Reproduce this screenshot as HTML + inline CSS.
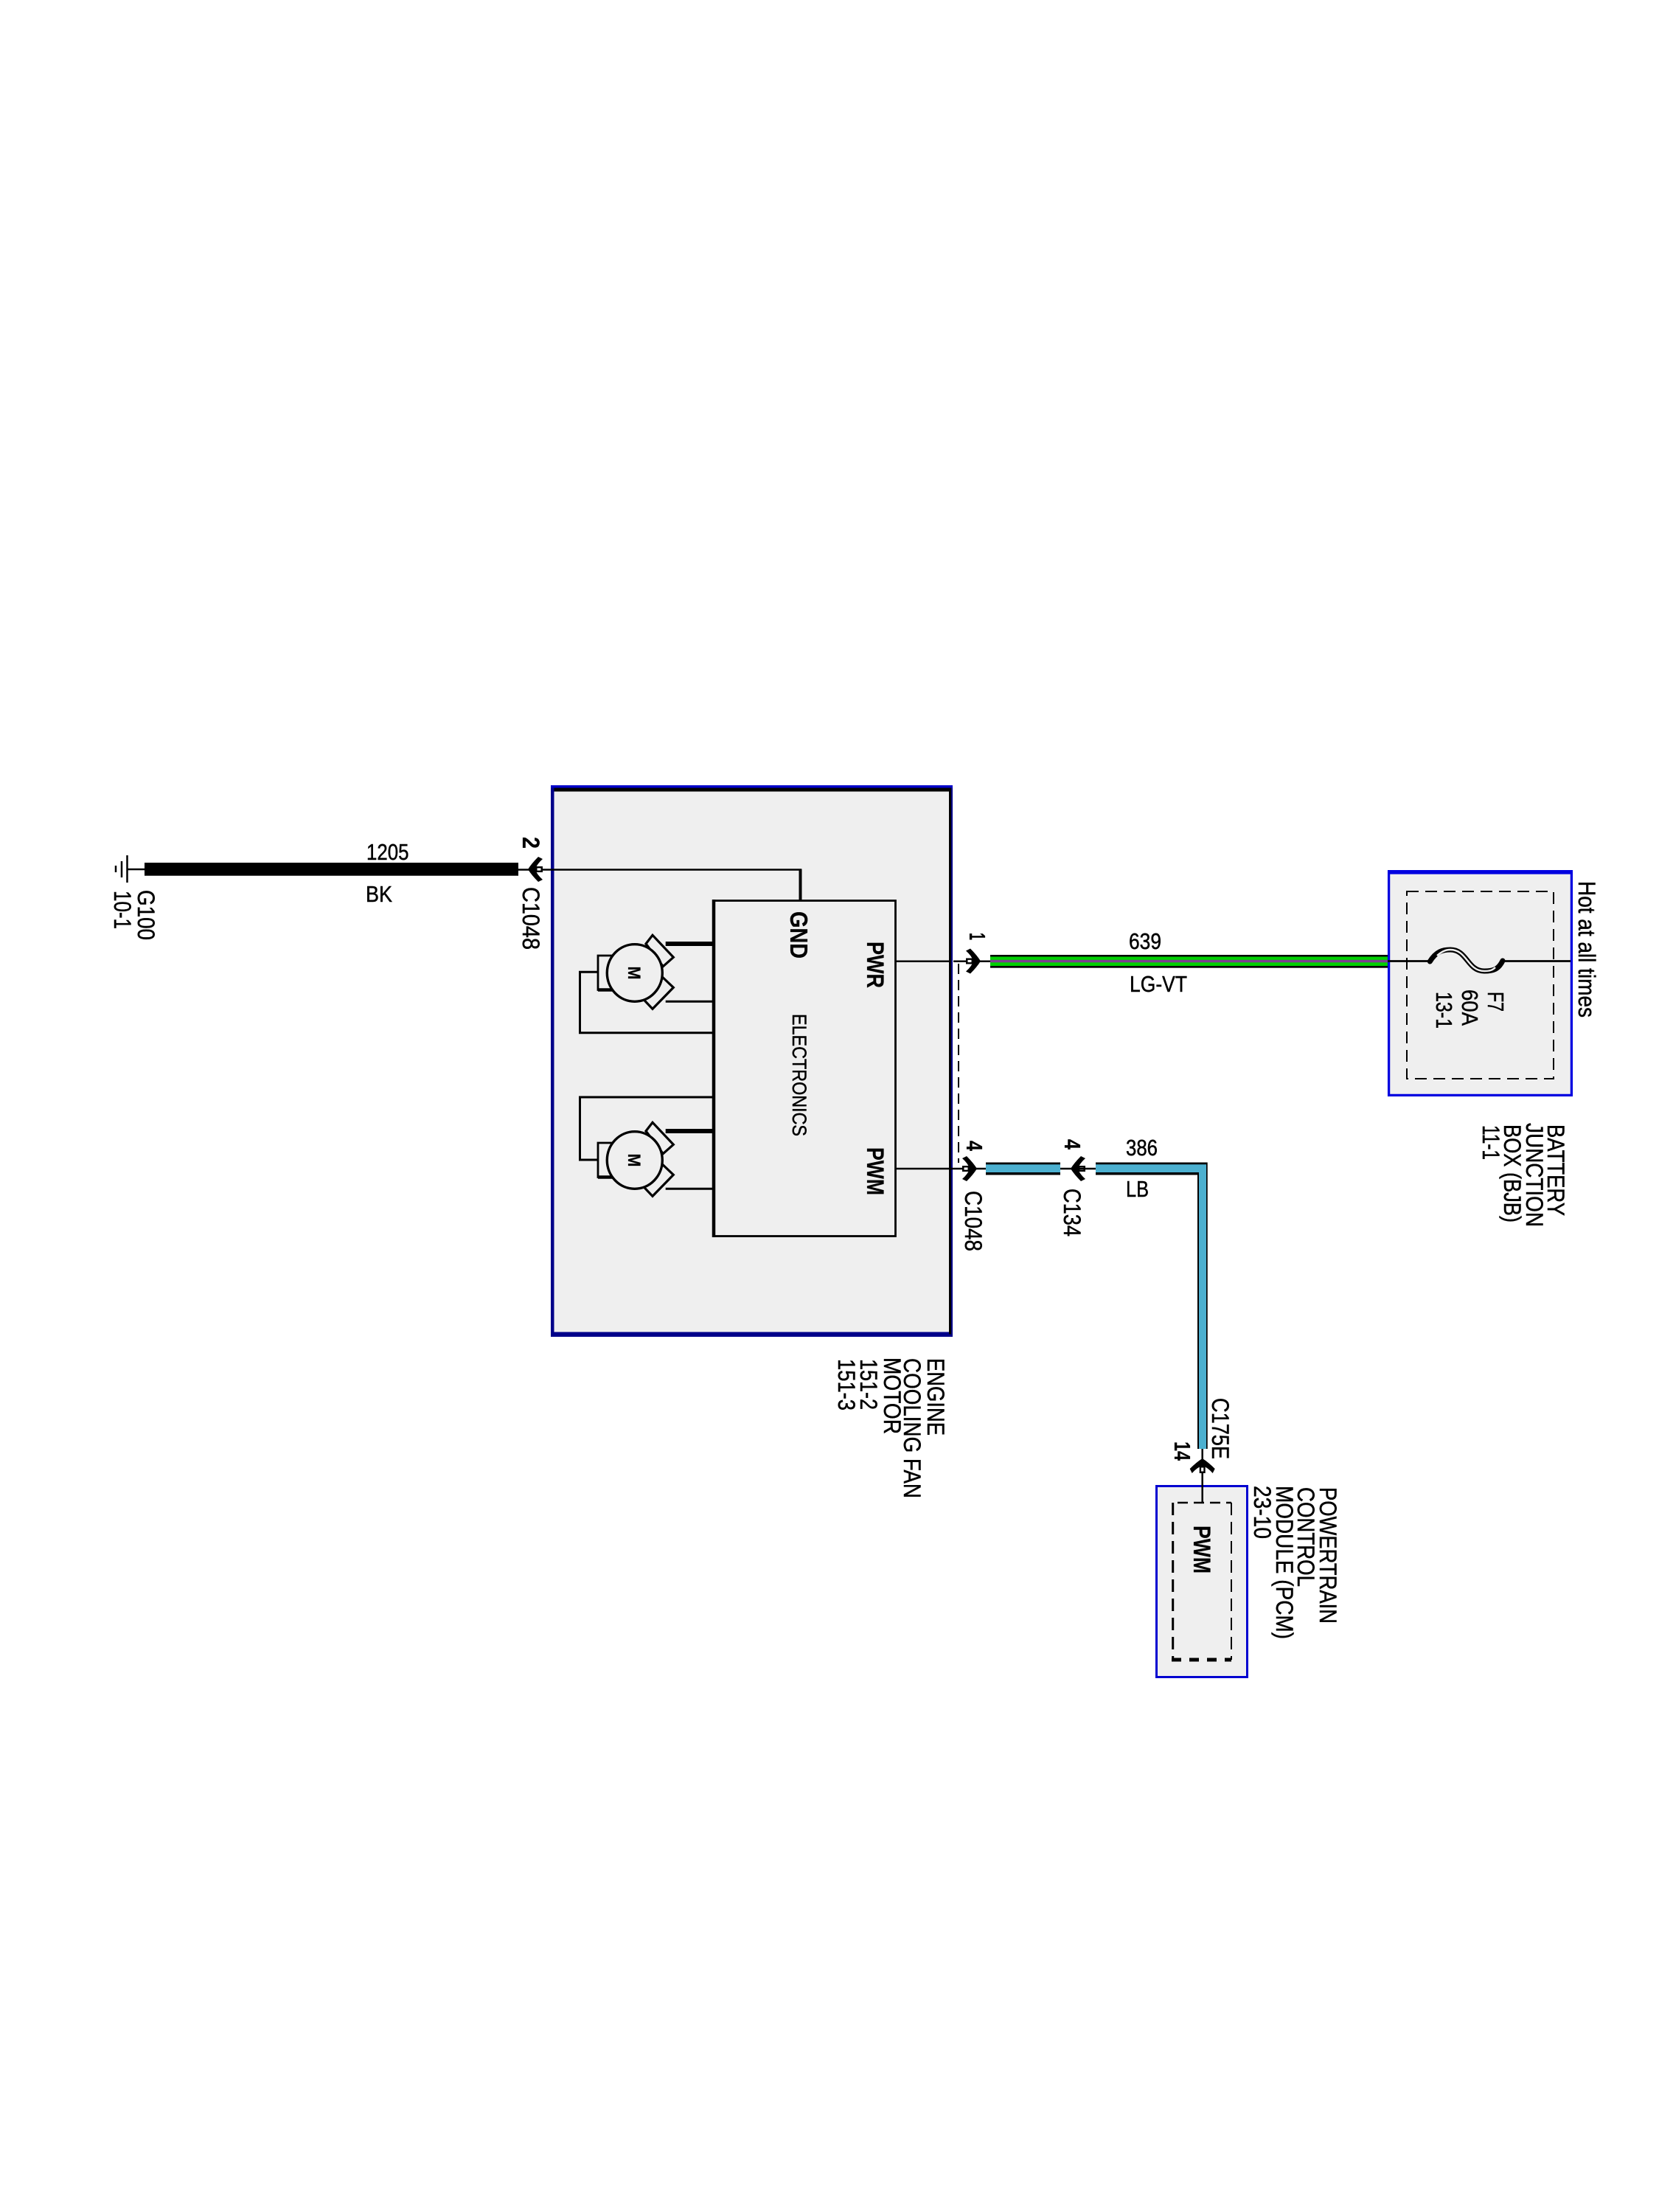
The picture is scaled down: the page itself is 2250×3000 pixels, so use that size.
<!DOCTYPE html>
<html>
<head>
<meta charset="utf-8">
<title>Engine cooling fan wiring diagram</title>
<style>
html,body{margin:0;padding:0;background:#fff;}
svg{display:block;}
text{font-family:"Liberation Sans",sans-serif;fill:#000;stroke:#000;stroke-width:.5;}
.b{font-weight:bold;stroke-width:.2;}
</style>
</head>
<body>
<svg xmlns="http://www.w3.org/2000/svg" width="2250" height="3000" viewBox="0 0 2250 3000">
<defs>
  <g id="conn">
    <path d="M-18,-14 L-12,-17 Q-3,-8 2,0 Q-3,8 -12,17 L-18,14 Q-10,7 -8,0 Q-10,-7 -18,-14Z" fill="#000"/>
    <rect x="-18" y="-4" width="11" height="8" fill="#000"/>
    <rect x="-15.5" y="-1.6" width="5" height="3.2" fill="#fff"/>
  </g>
  <g id="motor" fill="none" stroke="#000">
    <path d="M835,1296 H811 V1342.5 H838" stroke-width="2.8" fill="#efefef"/>
    <path d="M811,1342.5 H838" stroke-width="4.5"/>
    <path d="M876,1280 L885,1268.3 L913.3,1298.3 L899.3,1310.7 Z" stroke-width="3.2" fill="#efefef"/>
    <path d="M899.3,1326 L913.3,1339.3 L885,1368.3 L873.3,1356 Z" stroke-width="3.2" fill="#efefef"/>
    <ellipse cx="860.8" cy="1319.5" rx="37.5" ry="38.8" stroke-width="3.4" fill="#efefef"/>
    <path d="M902.7,1280 H968" stroke-width="6"/>
    <path d="M902.7,1358.3 H968" stroke-width="3"/>
  </g>
</defs>

<!-- ground -->
<g stroke="#000" fill="none">
  <path d="M172.5,1160 V1197" stroke-width="2.5"/>
  <path d="M165,1168 V1190" stroke-width="2.5"/>
  <path d="M157,1174 V1183" stroke-width="2.5"/>
  <path d="M172,1179 H196" stroke-width="2.5"/>
</g>
<rect x="196" y="1170" width="507" height="17.7" fill="#000"/>
<text transform="translate(187,1207) rotate(90)" font-size="32" textLength="68" lengthAdjust="spacingAndGlyphs">G100</text>
<text transform="translate(155,1208) rotate(90)" font-size="32" textLength="52" lengthAdjust="spacingAndGlyphs">10-1</text>
<text x="497" y="1166" font-size="31" textLength="57.5" lengthAdjust="spacingAndGlyphs">1205</text>
<text x="496" y="1223" font-size="31" textLength="36" lengthAdjust="spacingAndGlyphs">BK</text>
<text class="b" transform="translate(709,1135) rotate(90)" font-size="32" textLength="16" lengthAdjust="spacingAndGlyphs">2</text>
<text transform="translate(709,1203) rotate(90)" font-size="32" textLength="85" lengthAdjust="spacingAndGlyphs">C1048</text>

<!-- main module box -->
<rect x="747" y="1065" width="545" height="748" fill="#00008a"/>
<rect x="747" y="1065" width="545" height="3.5" fill="#0000c8"/>
<rect x="751.5" y="1068.5" width="538" height="5" fill="#000"/>
<rect x="1287" y="1068.5" width="3" height="741" fill="#000"/>
<rect x="751.5" y="1073.5" width="535.5" height="733" fill="#efefef"/>

<path d="M703,1179.5 H1087" stroke="#000" stroke-width="2.5" fill="none"/>
<use href="#conn" transform="translate(718,1179) rotate(180)"/>
<path d="M1085.5,1178.5 V1221" stroke="#000" stroke-width="4" fill="none"/>

<!-- electronics -->
<rect x="968.5" y="1221.5" width="246" height="455" fill="#efefef" stroke="#000" stroke-width="2.8"/>
<path d="M968,1220 V1678" stroke="#000" stroke-width="4.5" fill="none"/>

<!-- motors -->
<use href="#motor"/>
<use href="#motor" transform="translate(0,254)"/>
<path d="M811,1318.3 H786.5 V1400.7 H968" fill="none" stroke="#000" stroke-width="3"/>
<path d="M811,1573 H786.5 V1488 H968" fill="none" stroke="#000" stroke-width="3"/>
<text class="b" transform="translate(852,1310.5) rotate(90)" font-size="24" textLength="18" lengthAdjust="spacingAndGlyphs">M</text>
<text class="b" transform="translate(852,1564.5) rotate(90)" font-size="24" textLength="18" lengthAdjust="spacingAndGlyphs">M</text>

<text class="b" transform="translate(1072,1236) rotate(90)" font-size="33" textLength="64" lengthAdjust="spacingAndGlyphs">GND</text>
<text class="b" transform="translate(1176,1277) rotate(90)" font-size="32" textLength="63" lengthAdjust="spacingAndGlyphs">PWR</text>
<text class="b" transform="translate(1176,1556) rotate(90)" font-size="32" textLength="65" lengthAdjust="spacingAndGlyphs">PWM</text>
<text transform="translate(1075,1375) rotate(90)" font-size="27" textLength="166" lengthAdjust="spacingAndGlyphs">ELECTRONICS</text>

<!-- right-side wires from electronics -->
<path d="M1215,1303.7 H1287 M1293,1303.7 H1345" stroke="#000" stroke-width="2.5" fill="none"/>
<path d="M1215,1585 H1340" stroke="#000" stroke-width="2.5" fill="none"/>
<path d="M1300,1307 V1577" stroke="#000" stroke-width="2" stroke-dasharray="14 8" fill="none"/>

<use href="#conn" transform="translate(1328,1303.5)"/>
<use href="#conn" transform="translate(1323,1585)"/>
<use href="#conn" transform="translate(1454,1585) rotate(180)"/>

<text class="b" transform="translate(1315,1265) rotate(90)" font-size="31" textLength="10" lengthAdjust="spacingAndGlyphs">1</text>
<text class="b" transform="translate(1311,1547) rotate(90)" font-size="31" textLength="14" lengthAdjust="spacingAndGlyphs">4</text>
<text transform="translate(1309,1615) rotate(90)" font-size="32" textLength="82" lengthAdjust="spacingAndGlyphs">C1048</text>
<text class="b" transform="translate(1444,1545) rotate(90)" font-size="31" textLength="14" lengthAdjust="spacingAndGlyphs">4</text>
<text transform="translate(1443,1612) rotate(90)" font-size="32" textLength="65" lengthAdjust="spacingAndGlyphs">C134</text>

<!-- 639 LG-VT wire -->
<rect x="1343" y="1295" width="539" height="17.7" fill="#000"/>
<rect x="1343" y="1297.5" width="539" height="12.5" fill="#00d000"/>
<rect x="1343" y="1301.8" width="539" height="3.5" fill="#7b3f8f"/>
<text x="1531" y="1287" font-size="31" textLength="44" lengthAdjust="spacingAndGlyphs">639</text>
<text x="1532" y="1345" font-size="31" textLength="78" lengthAdjust="spacingAndGlyphs">LG-VT</text>

<!-- 386 LB wire -->
<rect x="1337" y="1576.5" width="101" height="17" fill="#000"/>
<rect x="1337" y="1579.3" width="101" height="10.7" fill="#4cb0d0"/>
<path d="M1438,1585 H1486" stroke="#000" stroke-width="2.5" fill="none"/>
<path d="M1486,1576.5 H1637.7 V1965 H1624 V1593.5 H1486 Z" fill="#000"/>
<path d="M1486,1579.3 H1636 V1965 H1626 V1590 H1486 Z" fill="#4cb0d0"/>
<text x="1527" y="1567" font-size="31" textLength="43" lengthAdjust="spacingAndGlyphs">386</text>
<text x="1527" y="1623" font-size="31" textLength="31" lengthAdjust="spacingAndGlyphs">LB</text>

<!-- battery junction box -->
<rect x="1883.6" y="1182" width="247.8" height="303.4" fill="#efefef" stroke="#0000e0" stroke-width="3.3"/>
<rect x="1882" y="1180" width="251" height="5.6" fill="#0000e0"/>
<rect x="1908" y="1209" width="199" height="254" fill="none" stroke="#000" stroke-width="2" stroke-dasharray="16 9"/>
<path d="M1882,1303.5 H1939 M2038,1303.5 H2130" stroke="#000" stroke-width="2.8" fill="none"/>
<path d="M1939.3,1304 C1948,1290 1957,1288 1967,1288 C1990,1288 1990,1317 2013,1317 C2025,1317 2032,1315 2038,1303" fill="none" stroke="#000" stroke-width="7" stroke-linecap="round"/>
<path d="M1949,1296 C1955,1291 1960,1288 1967,1288 C1990,1288 1990,1317 2013,1317 C2020,1317 2024,1316 2028,1312" fill="none" stroke="#efefef" stroke-width="2.4"/>
<text transform="translate(2018,1345) rotate(90)" font-size="31" textLength="27" lengthAdjust="spacingAndGlyphs">F7</text>
<text transform="translate(1983,1342) rotate(90)" font-size="31" textLength="49" lengthAdjust="spacingAndGlyphs">60A</text>
<text transform="translate(1948,1345) rotate(90)" font-size="31" textLength="50" lengthAdjust="spacingAndGlyphs">13-1</text>
<text transform="translate(2141,1195) rotate(90)" font-size="32" textLength="185" lengthAdjust="spacingAndGlyphs">Hot at all times</text>
<text transform="translate(2099,1525) rotate(90)" font-size="32" textLength="124" lengthAdjust="spacingAndGlyphs">BATTERY</text>
<text transform="translate(2070,1523) rotate(90)" font-size="32" textLength="141" lengthAdjust="spacingAndGlyphs">JUNCTION</text>
<text transform="translate(2040,1525) rotate(90)" font-size="32" textLength="133" lengthAdjust="spacingAndGlyphs">BOX (BJB)</text>
<text transform="translate(2011,1526) rotate(90)" font-size="32" textLength="47" lengthAdjust="spacingAndGlyphs">11-1</text>

<!-- PCM -->
<rect x="1568.5" y="2015.5" width="123" height="259" fill="#efefef" stroke="#0000d0" stroke-width="3"/>
<path d="M1590.7,2038 V2251" stroke="#000" stroke-width="3" stroke-dasharray="17 9" fill="none"/>
<path d="M1670,2038 V2251" stroke="#000" stroke-width="2" stroke-dasharray="17 9" fill="none"/>
<path d="M1597,2038 H1670" stroke="#000" stroke-width="2.5" stroke-dasharray="14 8" fill="none"/>
<path d="M1589,2251 H1670" stroke="#000" stroke-width="5" stroke-dasharray="13 11" fill="none"/>
<path d="M1630.7,1965 V2037" stroke="#000" stroke-width="2.5" fill="none"/>
<use href="#conn" transform="translate(1630.7,1980) rotate(-90)"/>
<text class="b" transform="translate(1593,1955) rotate(90)" font-size="31" textLength="26" lengthAdjust="spacingAndGlyphs">14</text>
<text transform="translate(1644,1896) rotate(90)" font-size="32" textLength="83" lengthAdjust="spacingAndGlyphs">C175E</text>
<text class="b" transform="translate(1619,2069) rotate(90)" font-size="32" textLength="65" lengthAdjust="spacingAndGlyphs">PWM</text>
<text transform="translate(1790,2017) rotate(90)" font-size="32" textLength="185" lengthAdjust="spacingAndGlyphs">POWERTRAIN</text>
<text transform="translate(1760,2017) rotate(90)" font-size="32" textLength="135" lengthAdjust="spacingAndGlyphs">CONTROL</text>
<text transform="translate(1731,2015) rotate(90)" font-size="32" textLength="208" lengthAdjust="spacingAndGlyphs">MODULE (PCM)</text>
<text transform="translate(1701,2015) rotate(90)" font-size="32" textLength="72" lengthAdjust="spacingAndGlyphs">23-10</text>

<!-- module title -->
<text transform="translate(1258,1842) rotate(90)" font-size="32" textLength="105" lengthAdjust="spacingAndGlyphs">ENGINE</text>
<text transform="translate(1226,1842) rotate(90)" font-size="32" textLength="190" lengthAdjust="spacingAndGlyphs">COOLING FAN</text>
<text transform="translate(1199,1841) rotate(90)" font-size="32" textLength="104" lengthAdjust="spacingAndGlyphs">MOTOR</text>
<text transform="translate(1167,1843) rotate(90)" font-size="32" textLength="69" lengthAdjust="spacingAndGlyphs">151-2</text>
<text transform="translate(1137,1843) rotate(90)" font-size="32" textLength="70" lengthAdjust="spacingAndGlyphs">151-3</text>
</svg>
</body>
</html>
